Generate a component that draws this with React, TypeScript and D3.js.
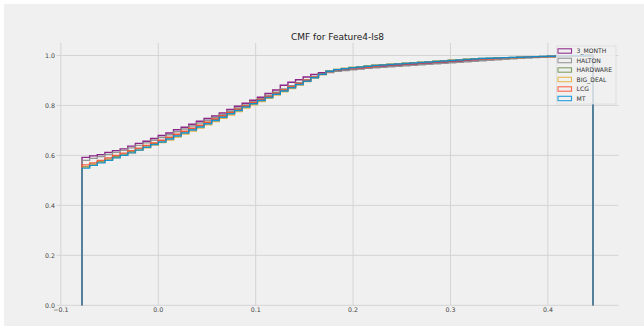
import React from "react";
import * as d3 from "d3";

const seriesNames = ["3_MONTH", "HALTON", "HARDWARE", "BIG_DEAL", "LCG", "MT"];
const seriesColors = ["#810f7c", "#8b8b8b", "#6d904f", "#e5ae38", "#fc4f30", "#008fd5"];

const binMin = -0.0783;
const binMax = 0.4463;
const binCount = 67;

const month3 = [
  0.592, 0.598, 0.603, 0.612, 0.619, 0.626, 0.637, 0.648, 0.657, 0.668,
  0.680, 0.690, 0.703, 0.713, 0.725, 0.737, 0.748, 0.758, 0.770, 0.784,
  0.797, 0.809, 0.821, 0.833, 0.848, 0.862, 0.881, 0.893, 0.903, 0.914,
  0.924, 0.931, 0.936, 0.939, 0.942, 0.945, 0.948, 0.951, 0.954, 0.957,
  0.959, 0.961, 0.963, 0.965, 0.967, 0.969, 0.971, 0.973, 0.975, 0.977,
  0.980, 0.982, 0.984, 0.986, 0.988, 0.990, 0.991, 0.992, 0.993, 0.994,
  0.995, 0.996, 0.997, 0.998, 0.999, 0.999, 1.0,
];
const halton = [
  0.580, 0.588, 0.595, 0.604, 0.612, 0.620, 0.630, 0.640, 0.650, 0.661,
  0.672, 0.683, 0.695, 0.706, 0.718, 0.730, 0.741, 0.752, 0.764, 0.777,
  0.790, 0.802, 0.815, 0.827, 0.840, 0.853, 0.866, 0.879, 0.891, 0.903,
  0.914, 0.924, 0.932, 0.937, 0.940, 0.943, 0.946, 0.949, 0.951, 0.953,
  0.955, 0.957, 0.959, 0.961, 0.963, 0.965, 0.967, 0.969, 0.971, 0.973,
  0.975, 0.977, 0.979, 0.981, 0.983, 0.985, 0.987, 0.989, 0.990, 0.992,
  0.993, 0.994, 0.995, 0.996, 0.997, 0.998, 1.0,
];
const hardware = [
  0.555, 0.565, 0.575, 0.585, 0.595, 0.605, 0.615, 0.626, 0.637, 0.648,
  0.659, 0.671, 0.683, 0.695, 0.707, 0.719, 0.732, 0.745, 0.758, 0.771,
  0.784, 0.797, 0.810, 0.823, 0.835, 0.848, 0.861, 0.874, 0.887, 0.900,
  0.913, 0.926, 0.938, 0.944, 0.948, 0.952, 0.955, 0.958, 0.961, 0.963,
  0.965, 0.967, 0.969, 0.971, 0.973, 0.975, 0.977, 0.979, 0.981, 0.983,
  0.985, 0.987, 0.988, 0.989, 0.990, 0.991, 0.992, 0.993, 0.994, 0.995,
  0.996, 0.997, 0.998, 0.998, 0.999, 0.999, 1.0,
];
const bigDeal = [
  0.553, 0.563, 0.572, 0.582, 0.591, 0.600, 0.610, 0.620, 0.630, 0.641,
  0.651, 0.662, 0.674, 0.686, 0.698, 0.710, 0.723, 0.736, 0.749, 0.762,
  0.776, 0.790, 0.803, 0.816, 0.829, 0.842, 0.855, 0.868, 0.882, 0.896,
  0.910, 0.924, 0.937, 0.944, 0.948, 0.952, 0.955, 0.958, 0.961, 0.963,
  0.965, 0.967, 0.969, 0.971, 0.973, 0.975, 0.977, 0.979, 0.981, 0.983,
  0.985, 0.986, 0.987, 0.988, 0.989, 0.990, 0.991, 0.992, 0.993, 0.994,
  0.995, 0.996, 0.997, 0.998, 0.999, 0.999, 1.0,
];
const lcg = [
  0.562, 0.570, 0.580, 0.590, 0.600, 0.609, 0.619, 0.629, 0.640, 0.650,
  0.661, 0.673, 0.685, 0.697, 0.709, 0.721, 0.733, 0.746, 0.759, 0.772,
  0.785, 0.798, 0.811, 0.824, 0.836, 0.849, 0.862, 0.875, 0.888, 0.901,
  0.913, 0.925, 0.936, 0.941, 0.945, 0.948, 0.951, 0.954, 0.957, 0.960,
  0.962, 0.964, 0.966, 0.968, 0.970, 0.972, 0.974, 0.976, 0.978, 0.980,
  0.982, 0.984, 0.986, 0.987, 0.988, 0.990, 0.991, 0.992, 0.993, 0.994,
  0.995, 0.996, 0.997, 0.998, 0.999, 0.999, 1.0,
];
const mt = [
  0.549, 0.560, 0.570, 0.580, 0.590, 0.600, 0.610, 0.621, 0.632, 0.643,
  0.654, 0.666, 0.678, 0.690, 0.702, 0.714, 0.727, 0.740, 0.753, 0.767,
  0.780, 0.794, 0.807, 0.820, 0.832, 0.845, 0.858, 0.871, 0.884, 0.897,
  0.911, 0.925, 0.937, 0.943, 0.947, 0.951, 0.954, 0.957, 0.960, 0.962,
  0.964, 0.966, 0.968, 0.970, 0.972, 0.974, 0.976, 0.978, 0.980, 0.982,
  0.984, 0.986, 0.988, 0.989, 0.990, 0.991, 0.992, 0.993, 0.994, 0.995,
  0.996, 0.997, 0.998, 0.998, 0.999, 0.999, 1.0,
];
const seriesValues = [month3, halton, hardware, bigDeal, lcg, mt];

const xTicks = [-0.1, 0.0, 0.1, 0.2, 0.3, 0.4];
const yTicks = [0.0, 0.2, 0.4, 0.6, 0.8, 1.0];
const title = "CMF for Feature4-ls8";

const W = 644;
const H = 326;
const FONT = "'DejaVu Sans', sans-serif";

export default function App() {
  const left = 56.5, right = 618.5, top = 43, bottom = 305.3;
  const x = d3.scaleLinear().domain([-0.1045, 0.4725]).range([left, right]);
  const y = d3.scaleLinear().domain([0, 1.05]).range([bottom, top]);
  const edges = d3.range(binCount + 1).map((i) => binMin + ((binMax - binMin) * i) / binCount);

  const stepPath = (vals: number[]) => {
    const pts: [number, number][] = [[edges[0], 0]];
    vals.forEach((v, i) => {
      pts.push([edges[i], v]);
      pts.push([edges[i + 1], v]);
    });
    pts.push([edges[binCount], 0]);
    const line = d3.line<[number, number]>().x((d) => x(d[0])).y((d) => y(d[1]));
    return line(pts) || "";
  };

  const fmt = (v: number) => d3.format(".1f")(v).replace("-", "\u2212");

  const legX = 556.5, legY = 46, legW = 59.5, legH = 58;
  const rowH = 9.5;

  return (
    <svg width={W} height={H} style={{ position: "absolute", left: 0, top: 0, display: "block" }}>
      <rect x={0} y={0} width={W} height={H} fill="#ffffff" />
      <rect x={4} y={4} width={W - 4} height={H - 4} fill="#f0f0f0" />
      {/* grid */}
      {xTicks.map((t) => (
        <line key={"gx" + t} x1={x(t)} x2={x(t)} y1={top} y2={bottom} stroke="#d4d4d4" strokeWidth={1} />
      ))}
      {yTicks.map((t) => (
        <line key={"gy" + t} x1={left} x2={right} y1={y(t)} y2={y(t)} stroke="#d4d4d4" strokeWidth={1} />
      ))}
      {/* series */}
      {seriesValues.map((vals, i) => (
        <path key={seriesNames[i]} d={stepPath(vals)} fill="none" stroke={seriesColors[i]}
          strokeWidth={1.4} strokeOpacity={0.9} />
      ))}
      {/* tick labels */}
      {xTicks.map((t) => (
        <text key={"tx" + t} x={x(t)} y={312} textAnchor="middle" fontFamily={FONT} fontSize={6.3} fill="#444">
          {fmt(t)}
        </text>
      ))}
      {yTicks.map((t) => (
        <text key={"ty" + t} x={55} y={y(t) + 2.2} textAnchor="end" fontFamily={FONT} fontSize={6.3} fill="#444">
          {fmt(t)}
        </text>
      ))}
      <text x={(left + right) / 2} y={40} textAnchor="middle" fontFamily={FONT} fontSize={9} fill="#222">
        {title}
      </text>
      {/* legend */}
      <rect x={legX} y={legY} width={legW} height={legH} fill="#f0f0f0" fillOpacity={0.8}
        stroke="#dcdcdc" strokeWidth={0.8} />
      {seriesNames.map((name, i) => (
        <g key={"leg" + name}>
          <rect x={legX + 1.5} y={legY + 2.8 + i * rowH} width={13.5} height={4.4} fill="none"
            stroke={seriesColors[i]} strokeWidth={1.1} strokeOpacity={0.85} />
          <text x={legX + 20} y={legY + 7.2 + i * rowH} fontFamily={FONT} fontSize={6.1} fill="#333">
            {name}
          </text>
        </g>
      ))}
    </svg>
  );
}
